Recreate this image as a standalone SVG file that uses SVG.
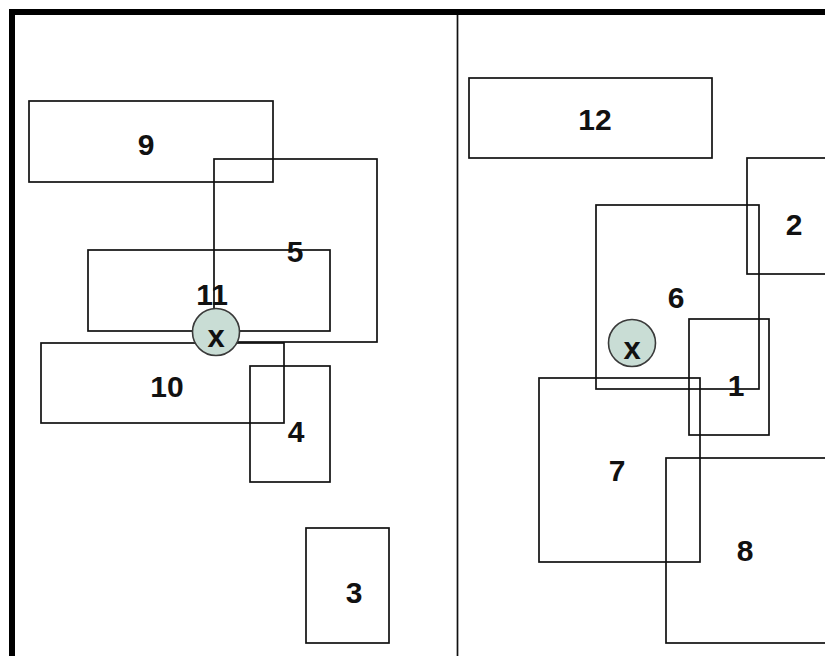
<svg xmlns="http://www.w3.org/2000/svg" width="825" height="656" viewBox="0 0 825 656">
<style>
.b{fill:none;stroke:#111;stroke-width:1.7}
.t{font-family:"Liberation Sans",Arial,sans-serif;font-weight:bold;font-size:30px;fill:#111;text-anchor:middle}
.c{fill:#c9ddd5;stroke:#3a3a3a;stroke-width:1.6}
.x{font-family:"Liberation Sans",Arial,sans-serif;font-weight:bold;font-size:31px;fill:#111;text-anchor:middle}
</style>
<rect x="0" y="0" width="825" height="656" fill="#ffffff"/>
<g id="frame">
<path d="M12,656 V12 H825" fill="none" stroke="#000" stroke-width="6"/>
<line x1="457.5" y1="15" x2="457.5" y2="656" stroke="#111" stroke-width="1.7"/>
</g>
<g id="n9"><rect class="b" x="29" y="101" width="244" height="81"/><text class="t" x="146" y="155">9</text></g>
<g id="n5"><rect class="b" x="214" y="159" width="163" height="183"/><text class="t" x="295" y="262">5</text></g>
<g id="n11"><rect class="b" x="88" y="250" width="242" height="81"/><text class="t" x="212" y="305">11</text></g>
<g id="n10"><rect class="b" x="41" y="343" width="243" height="80"/><text class="t" x="167" y="397">10</text></g>
<g id="n4"><rect class="b" x="250" y="366" width="80" height="116"/><text class="t" x="296" y="442">4</text></g>
<g id="n3"><rect class="b" x="306" y="528" width="83" height="115"/><text class="t" x="354" y="603">3</text></g>
<g id="x1"><circle class="c" cx="216" cy="332" r="23.5"/><text class="x" x="216" y="347">x</text></g>
<g id="n12"><rect class="b" x="469" y="78" width="243" height="80"/><text class="t" x="595" y="130">12</text></g>
<g id="n2"><rect class="b" x="747" y="158" width="100" height="116"/><text class="t" x="794" y="235">2</text></g>
<g id="n6"><rect class="b" x="596" y="205" width="163" height="184"/><text class="t" x="676" y="308">6</text></g>
<g id="n1"><rect class="b" x="689" y="319" width="80" height="116"/><text class="t" x="736" y="396">1</text></g>
<g id="x2"><circle class="c" cx="632" cy="343" r="23.5"/><text class="x" x="632" y="359">x</text></g>
<g id="n7"><rect class="b" x="539" y="378" width="161" height="184"/><text class="t" x="617" y="481">7</text></g>
<g id="n8"><rect class="b" x="666" y="458" width="180" height="185"/><text class="t" x="745" y="561">8</text></g>
<g id="connectors"></g>
</svg>
